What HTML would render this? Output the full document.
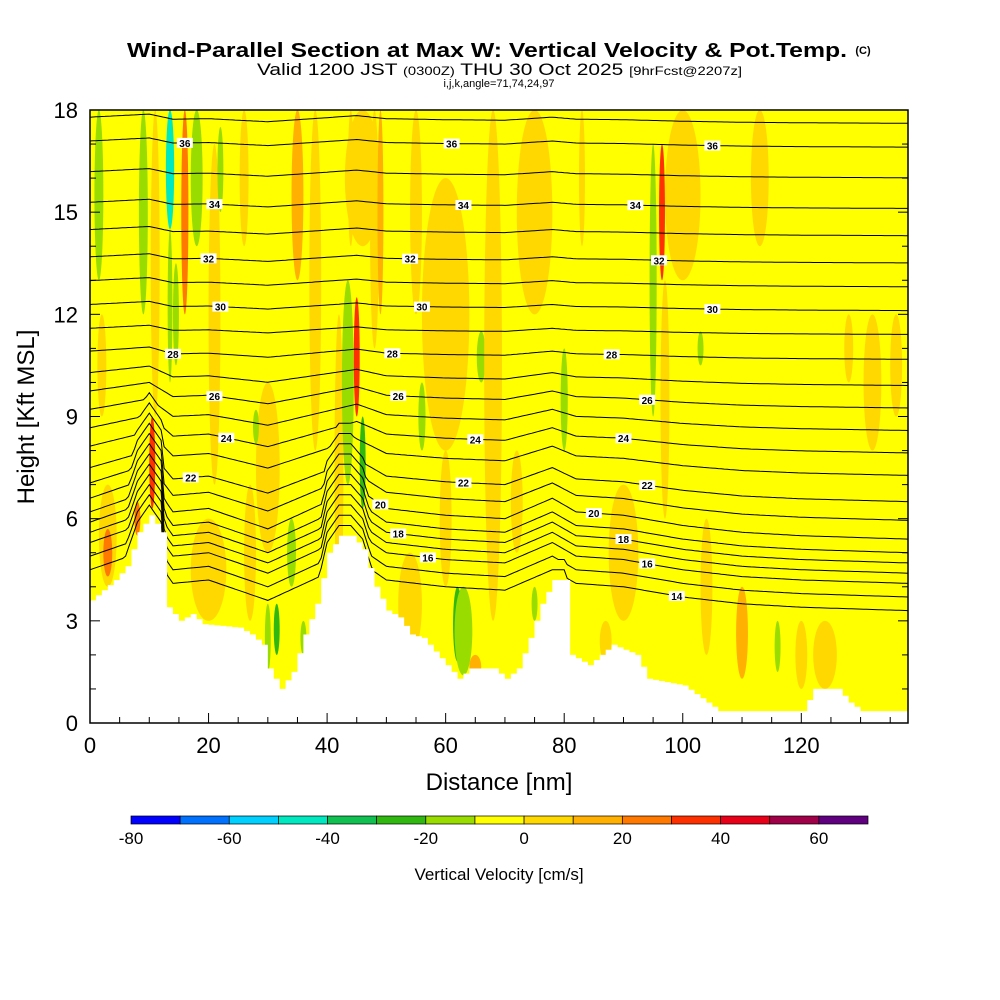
<!DOCTYPE html>
<html><head><meta charset="utf-8"><style>
body{margin:0;background:#fff;width:1000px;height:1000px;overflow:hidden}
svg{display:block;font-family:"Liberation Sans",sans-serif}
</style></head><body>
<svg id="c" width="1000" height="1000"></svg>
<script>
// ---- data ----
const xTicks=[0,20,40,60,80,100,120];
const yTicks=[0,3,6,9,12,15,18];
const cbLabels=[-80,-60,-40,-20,0,20,40,60];
const cbColors=["#0000ff","#0070ff","#00d0ff","#00e8c0","#10c050","#30b810","#98dc00","#ffff00","#ffd800","#ffb000","#ff7800","#ff3000","#e80018","#a00048","#600080"];
const terrainX=[0,2,4,6,8,10,12,13,15,17,19,25,27,29,30,32,34,36,38,40,42,44,46,48,50,52,54,56,58,62,64,68,70,72,74,76,78,80,81,84,86,88,92,94,100,104,106,120,122,126,128,130,138];
const terrainH=[3.6,3.9,4.2,4.6,5.6,6.1,5.6,3.4,3.0,3.2,2.9,2.8,2.6,2.3,1.6,1.0,1.5,2.6,3.5,5.0,5.5,5.5,5.1,4.0,3.3,3.1,2.6,2.5,2.1,1.3,1.6,1.6,1.3,1.6,2.5,3.5,4.2,4.2,2.0,1.7,2.0,2.3,2.0,1.3,1.1,0.6,0.35,0.35,1.0,1.0,0.6,0.35,0.35];
// streaks: x(nm), width(nm), bottom(kft), top(kft), w(cm/s)
const streaks=[[60,8,8,16,5],[75,6,12,18,5],[100,6,13,18,5],[30,4,5,10,5],[90,5,3,7,5],[54,4,2,5,5],[124,4,1,3,5],[20,6,3,6,5],[46,6,14,18,5],
[3,3,4,7,5],[3,1.5,4.3,5.7,25],[8,1,5.5,6.5,25],[1.5,1.5,13,18,-15],[2,1.5,9,12,5],
[9,1.5,12,18,-15],[10.5,1,6.3,9,35],[11,1.5,9,18,5],[13.5,1.4,14.5,18,-45],[13.5,0.8,10,14.5,-15],[14.5,1,10.5,13.5,-15],
[16,1.2,12,18,25],[18,2,14,18,-15],[21,2,7,17,5],[22,1,15,17.5,-15],[26,1.5,14,18,5],[28,1,8.2,9.2,-15],[27,2,3,7,5],
[30,1,1.5,3.5,-15],[31.5,1,2,3.5,-25],[35,2,13,18,15],[36,1,2,3,-15],[34,1.5,4,6,-15],[38,2,8,18,5],
[42,1.5,3,12,5],[43.5,2,7,13,-15],[45,1,9,12.5,35],[46,1,6.3,9,-25],[44,1,14,18,5],[48,1.5,11,18,5],[49,1,12,18,15],
[55,2,12,18,5],[56,1.2,8,10,-15],[60,2,4,8,5],[62,1.5,1.8,4,-25],[63,3,1.4,4,-15],[65,2,1.3,2,15],[66,1.5,10,11.5,-15],
[68,3,3,18,5],[72,2,5,8,5],[75,1,3,4,-15],[80,1.2,8,11,-15],[83,1,14,18,5],[87,2,1.8,3,5],[95,1.2,9,17,-15],
[96.5,1,13,17,35],[97,1.5,6,13,5],[104,2,2,6,5],[103,1,10.5,11.5,-15],[110,2,1.3,4,15],[113,3,14,18,5],[116,1,1.5,3,-15],
[120,2,1,3,5],[128,1.5,10,12,5],[132,3,8,12,5],[136,2,9,12,5]];
const thetaLevels=[14,15,16,17,18,19,20,21,22,23,24,25,26,27,28,29,30,31,32,33,34,35,36,37];
const thetaBase=[3.9,4.3,4.7,5.0,5.3,5.6,6.0,6.5,7.0,7.7,8.3,8.9,9.5,10.1,10.8,11.5,12.2,12.9,13.6,14.4,15.2,16.1,17.0,17.7];
const bumpX=[0,10,14,20,30,40,45,50,60,70,78,82,90,100,110,120,138];
const bumpH=[0.6,1.2,0.2,0.3,-0.3,0.5,0.9,0.3,0.1,0,0.6,0.2,0.1,-0.2,-0.4,-0.5,-0.6];
const labels=[[36,16],[36,61],[36,105],[34,21],[34,63],[34,92],[32,20],[32,54],[32,96],[30,22],[30,56],[30,105],[28,14],[28,51],[28,88],[26,21],[26,52],[26,94],[24,23],[24,65],[24,90],[22,17],[22,63],[22,94],[20,49],[20,85],[18,52],[18,90],[16,57],[16,94],[14,99]];
// ---- scales ----
const X0=90,X1=908,Y0=723,Y1=110;
const sx=v=>X0+v*(X1-X0)/138, sy=v=>Y0-v*(Y0-Y1)/18;
const svg=document.getElementById('c'),NS="http://www.w3.org/2000/svg";
function mk(t,a,p){const e=document.createElementNS(NS,t);for(const k in a)e.setAttribute(k,a[k]);(p||svg).appendChild(e);return e;}
function interp(xs,ys,x){if(x<=xs[0])return ys[0];for(let i=1;i<xs.length;i++)if(x<=xs[i]){const t=(x-xs[i-1])/(xs[i]-xs[i-1]);return ys[i-1]+t*(ys[i]-ys[i-1]);}return ys[ys.length-1];}
function colorOf(w){let i=Math.floor((w+80)/10);return cbColors[Math.max(0,Math.min(14,i))];}
function levelH(i,x){const base=thetaBase[i];const f=Math.max(0.15,Math.min(1,(12-base)/6));let h=base+interp(bumpX,bumpH,x)*f;const t=interp(terrainX,terrainH,x);return Math.max(h,t+0.3+0.3*i);}
const defs=mk('defs',{});const cp=mk('clipPath',{id:'pc'},defs);mk('rect',{x:X0,y:Y1,width:X1-X0,height:Y0-Y1},cp);
const plot=mk('g',{'clip-path':'url(#pc)'});

mk('rect',{x:X0,y:Y1,width:X1-X0,height:Y0-Y1,fill:'#ffff00'},plot);
streaks.forEach(s=>{const r=mk('ellipse',{cx:sx(s[0]),cy:(sy(s[2])+sy(s[3]))/2,rx:(sx(s[1])-X0)/2,ry:(sy(s[2])-sy(s[3]))/2,fill:colorOf(s[4])},plot);
});
// contours
thetaLevels.forEach((lv,i)=>{let d='';
for(let x=0;x<=138;x+=0.5){const h=levelH(i,x);d+=(x?'L':'M')+sx(x).toFixed(1)+' '+sy(h).toFixed(1);}
const p=mk('path',{d:d,fill:'none',stroke:'#000','stroke-width':1},plot);});
// terrain
let td='M'+X0+' '+Y0;let prev=null;
for(let x=0;x<=138;x+=1){const h=interp(terrainX,terrainH,x);const y=sy(h);if(prev!==null)td+='L'+sx(x)+' '+prev.toFixed(1);td+='L'+sx(x)+' '+y.toFixed(1);prev=y;}
td+='L'+X1+' '+Y0+'Z';
const tr=mk('path',{d:td,fill:'#fff'},plot);
// contour labels
labels.forEach(l=>{const i=thetaLevels.indexOf(l[0]);const h=levelH(i,l[1]);
const g=mk('g',{},plot);
mk('rect',{x:sx(l[1])-8,y:sy(h)-5,width:16,height:10,fill:'#fff'},g);
const t=mk('text',{x:sx(l[1]),y:sy(h)+4,'font-size':10,'font-weight':'bold','text-anchor':'middle'},g);t.textContent=l[0];});
mk('rect',{x:X0,y:Y1,width:X1-X0,height:Y0-Y1,fill:'none',stroke:'#000','stroke-width':1.5});
// axes ticks
for(let v=0;v<=138;v+=5){mk('line',{x1:sx(v),x2:sx(v),y1:Y0,y2:Y0-(v%20==0?10:6),stroke:'#000'});}
xTicks.forEach(v=>{const t=mk('text',{x:sx(v),y:753,'font-size':22,'text-anchor':'middle'});t.textContent=v;});
for(let v=0;v<=18;v++){mk('line',{x1:X0,x2:X0+(v%3==0?10:6),y1:sy(v),y2:sy(v),stroke:'#000'});mk('line',{x1:X1,x2:X1-(v%3==0?10:6),y1:sy(v),y2:sy(v),stroke:'#000'});}
yTicks.forEach(v=>{const t=mk('text',{x:78,y:sy(v)+8,'font-size':22,'text-anchor':'end'});t.textContent=v;});
let t=mk('text',{x:499,y:790,'font-size':24,'text-anchor':'middle'});t.textContent='Distance [nm]';
t=mk('text',{x:34,y:417,'font-size':24,'text-anchor':'middle',transform:'rotate(-90 34 417)'});t.textContent='Height [Kft MSL]';
// title
t=mk('text',{x:127,y:57,'font-size':20,'font-weight':'bold',textLength:720,lengthAdjust:'spacingAndGlyphs'});t.textContent='Wind-Parallel Section at Max W: Vertical Velocity & Pot.Temp.';
t=mk('text',{x:863,y:54,'font-size':11,'font-weight':'bold','text-anchor':'middle'});t.textContent='(C)';
t=mk('text',{x:257,y:75,'font-size':17,textLength:485,lengthAdjust:'spacingAndGlyphs'});t.innerHTML='Valid 1200 JST <tspan font-size="12">(0300Z)</tspan> THU 30 Oct 2025 <tspan font-size="12">[9hrFcst@2207z]</tspan>';
t=mk('text',{x:499,y:87,'font-size':11,'text-anchor':'middle'});t.textContent='i,j,k,angle=71,74,24,97';
// colorbar
const cb=mk('g',{});
const cw=(868-131)/15;
cbColors.forEach((c,i)=>mk('rect',{x:131+i*cw,y:816,width:cw,height:8,fill:c,stroke:'#000','stroke-width':0.7},cb));
cbLabels.forEach(v=>{const tt=mk('text',{x:131+(v+80)/10*cw,y:844,'font-size':17,'text-anchor':'middle'},cb);tt.textContent=v;});
t=mk('text',{x:499,y:880,'font-size':17,'text-anchor':'middle'},cb);t.textContent='Vertical Velocity [cm/s]';
</script>
</body></html>
